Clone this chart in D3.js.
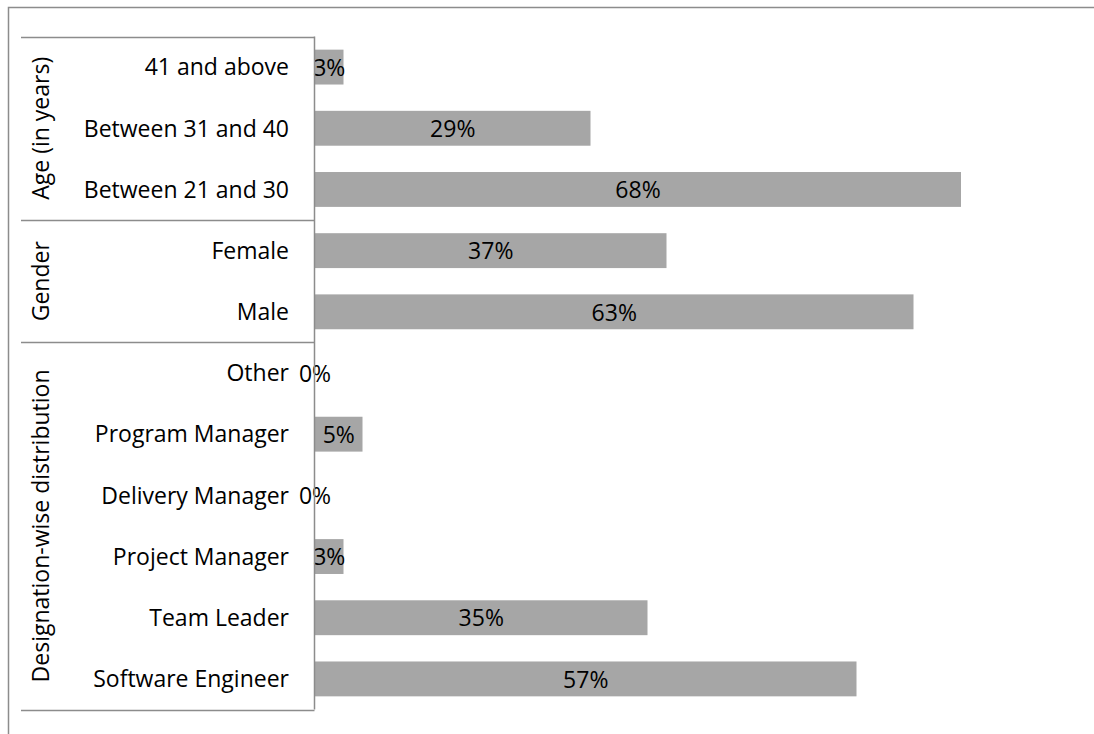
<!DOCTYPE html>
<html>
<head>
<meta charset="utf-8">
<script src="https://cdn.jsdelivr.net/npm/d3@7"></script>
<style>
  html, body { margin: 0; padding: 0; background: #fff; }
  svg { display: block; }
  text { font-family: "Open Sans", "Noto Sans", sans-serif; fill: #000; }
</style>
</head>
<body>
<svg id="chart" width="1094" height="734"></svg>
<script>
// ---- data ----
const categories = ["41 and above", "Between 31 and 40", "Between 21 and 30",
  "Female", "Male",
  "Other", "Program Manager", "Delivery Manager", "Project Manager", "Team Leader", "Software Engineer"];
const values = [3, 29, 68, 37, 63, 0, 5, 0, 3, 35, 57];
const groupNames = ["Age (in years)", "Gender", "Designation-wise distribution"];
const groupSizes = [3, 2, 6];

(function () {
// ---- layout ----
const W = 1094, H = 734;
const axisX = 314.5, plotTop = 36.5, plotBottom = 709.5;
const fs = 23;
const svg = d3.select("#chart");

// outer frame (top and left only)
svg.append("path")
  .attr("d", `M8.5,${H} L8.5,7.5 L${W},7.5`)
  .attr("fill", "none").attr("stroke", "#8c8c8c").attr("stroke-width", 1.5);

const x = d3.scaleLinear().domain([0, 80]).range([315, 315 + 760]);
const y = d3.scaleBand().domain(categories).range([plotTop, plotBottom])
  .paddingInner(0.43).paddingOuter(0.215);

// bars
svg.append("g").selectAll("rect").data(categories).join("rect")
  .attr("x", x(0))
  .attr("y", d => y(d))
  .attr("width", (d, i) => x(values[i]) - x(0))
  .attr("height", y.bandwidth())
  .attr("fill", "#a6a6a6");

// data labels (centered in bar)
svg.append("g").selectAll("text").data(categories).join("text")
  .attr("x", (d, i) => (x(0) + x(values[i])) / 2)
  .attr("y", d => y(d) + y.bandwidth() / 2)
  .attr("dy", "0.38em")
  .attr("text-anchor", "middle")
  .attr("font-size", fs)
  .text((d, i) => values[i] + "%");

// category labels
svg.append("g").selectAll("text").data(categories).join("text")
  .attr("x", 289)
  .attr("y", d => y(d) + y.bandwidth() / 2)
  .attr("dy", "0.36em")
  .attr("text-anchor", "end")
  .attr("font-size", fs)
  .text(d => d);

// axis line
svg.append("line")
  .attr("x1", axisX).attr("x2", axisX).attr("y1", plotTop).attr("y2", plotBottom)
  .attr("stroke", "#8c8c8c").attr("stroke-width", 1.5);

// group separators and labels
const step = y.step();
let start = 0;
const bounds = [plotTop];
groupSizes.forEach(n => { start += n; bounds.push(plotTop + start * step); });
svg.append("g").selectAll("line").data(bounds).join("line")
  .attr("x1", 21).attr("x2", axisX)
  .attr("y1", d => Math.round(d) + 0.5).attr("y2", d => Math.round(d) + 0.5)
  .attr("stroke", "#8c8c8c").attr("stroke-width", 1.5);

svg.append("g").selectAll("text").data(groupNames).join("text")
  .attr("transform", (d, i) => `translate(41,${(bounds[i] + bounds[i + 1]) / 2}) rotate(-90)`)
  .attr("dy", "0.36em")
  .attr("text-anchor", "middle")
  .attr("font-size", fs)
  .text(d => d);
})();
</script>
</body>
</html>
